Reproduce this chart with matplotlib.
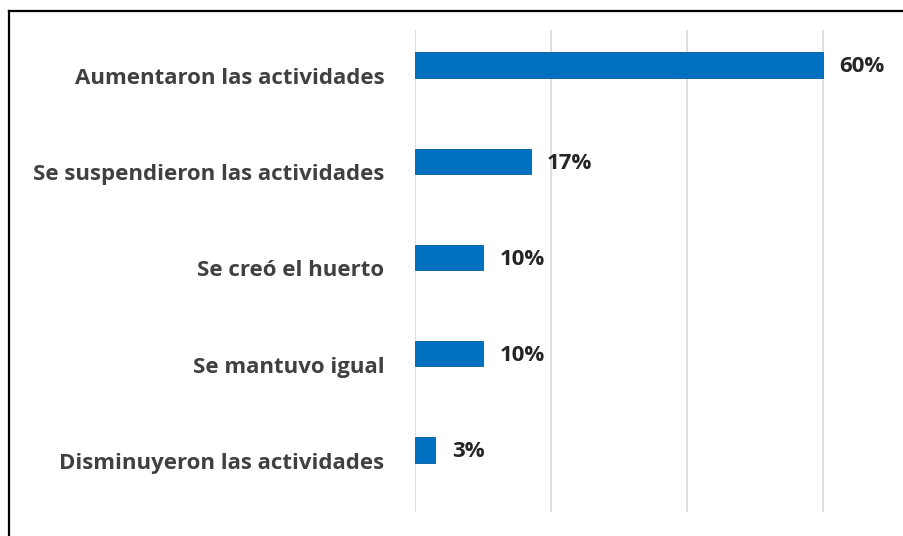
import matplotlib.pyplot as plt
from matplotlib.lines import Line2D
from matplotlib.transforms import ScaledTranslation

categories = ["Aumentaron las actividades", "Se suspendieron las actividades",
              "Se creó el huerto", "Se mantuvo igual", "Disminuyeron las actividades"]
values = [60, 17, 10, 10, 3]
labels = ["60%", "17%", "10%", "10%", "3%"]

fig = plt.figure(figsize=(9.04, 5.36), dpi=100)
ax = fig.add_axes([415 / 904, 24 / 536, 1 - 415 / 904, 482 / 536])

y = list(range(len(categories)))
ax.barh(y, values, height=0.26, color="#0070c0", edgecolor="#005a9e", linewidth=0.6, zorder=3)

# value labels sit a bit lower than plain "center"
val_shift = ScaledTranslation(0, -0.02, fig.dpi_scale_trans)
for yi, v, lab in zip(y, values, labels):
    ax.text(v + 2.4, yi, lab, va="center", ha="left", fontsize=16,
            fontweight="bold", color="#262626", family="Open Sans",
            transform=ax.transData + val_shift)

ax.set_xlim(0, (904 - 415) / 136 * 20)
ax.set_ylim(4 + 62 / 96.25, -35 / 96.25)
ax.set_xticks([0, 20, 40, 60])
ax.set_xticklabels([])
ax.set_yticks(y)
ax.set_yticklabels(categories, fontsize=16, fontweight="bold", color="#404040", family="Open Sans")
ax.tick_params(axis="both", length=0)
ax.tick_params(axis="y", pad=22)
# category labels are drawn ~11 px below the bar centres in the original
lab_shift = ScaledTranslation(0, -0.11, fig.dpi_scale_trans)
for t in ax.get_yticklabels():
    t.set_transform(t.get_transform() + lab_shift)
ax.grid(axis="x", color="#d9d9d9", linewidth=1.2, zorder=0)
for s in ax.spines.values():
    s.set_visible(False)

# black frame on left and top
fig.add_artist(Line2D([9 / 904, 9 / 904], [0, 1 - 11 / 536], transform=fig.transFigure, color="black", lw=1.6))
fig.add_artist(Line2D([9 / 904, 1], [1 - 11 / 536, 1 - 11 / 536], transform=fig.transFigure, color="black", lw=1.6))

fig.savefig("out.png", dpi=100)
